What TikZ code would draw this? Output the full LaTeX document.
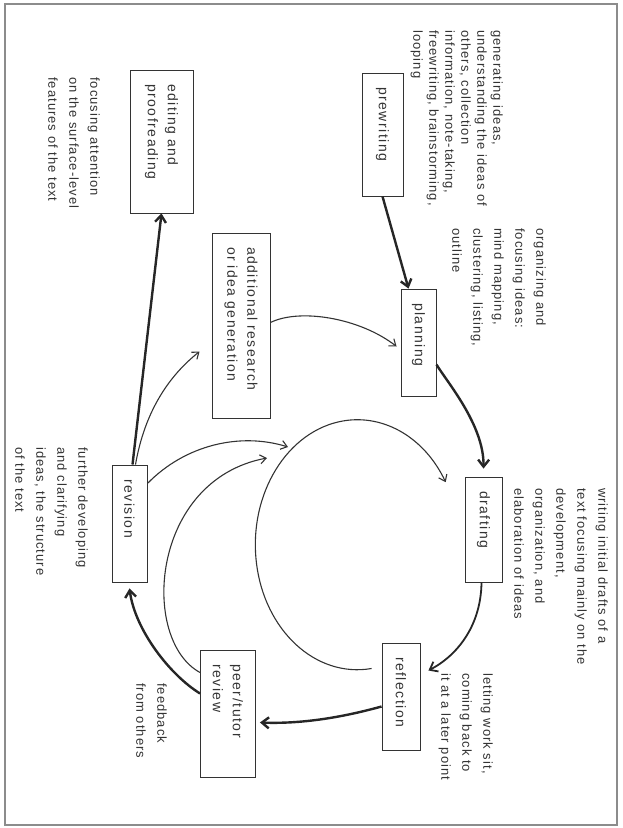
\documentclass[tikz,border=0pt]{standalone}
\usepackage{fontspec}
\usepackage{tikz}
\usetikzlibrary{arrows.meta}
\newfontfamily\boxfont{Liberation Sans}[LetterSpace=11]
\newfontfamily\notefont{Liberation Sans}[LetterSpace=8]
\tikzset{stage/.style = {draw=black!80, line width=0.9pt, rotate=-90, align=left, inner xsep=14pt, inner ysep=0pt, text=black!80, font=\boxfont\fontsize{14}{20}\selectfont}}
\tikzset{note/.style = {rotate=-90, anchor=north west, inner sep=0pt, align=left, text=black!80, font=\notefont\fontsize{13}{21}\selectfont}}
\tikzset{heavy/.style = {-{Straight Barb[length=7pt,width=11pt]}, line width=2.4pt, black!85}}
\tikzset{mid/.style = {heavy, line width=1.8pt}}
\tikzset{light/.style = {-{Straight Barb[length=6pt,width=9pt]}, line width=1.1pt, black!80}}

\begin{document}
\begin{tikzpicture}[x=1pt, y=-1pt]
\useasboundingbox (0,0) rectangle (622,828);
\draw [black!45, line width=1.6pt] (5,4) rectangle (617,825);

% stages
\node [stage, text width=95pt, minimum height=41pt] (P) at (382.5,134.5) {prewriting};
\node [stage, text width=79pt, minimum height=35pt] (Pl) at (418.5,342.5) {planning};
\node [stage, text width=77pt, minimum height=37pt] (D) at (483.5,529.5) {drafting};
\node [stage, text width=79pt, minimum height=38pt] (R) at (401,696.5) {reflection};
\node [stage, text width=99pt, minimum height=55pt] (PR) at (228,713.5) {peer/tutor\\review};
\node [stage, text width=89pt, minimum height=35pt] (Rv) at (129.5,523.5) {revision};
\node [stage, text width=115pt, minimum height=63pt] (E) at (161.5,141.5) {editing and\\proofreading};
\node [stage, text width=157pt, minimum height=58pt] (AR) at (241,325.5) {additional research\\or idea generation};

% notes
\node [note, font=\notefont\fontsize{13}{16}\selectfont] (nP) at (503,30) {generating ideas,\\understanding the ideas of\\others, collection\\information, note-taking,\\freewriting, brainstorming,\\looping};
\node [note] (nPl) at (546,228) {organizing and\\focusing ideas:\\mind mapping,\\clustering, listing,\\outline};
\node [note] (nD) at (608,488) {writing initial drafts of a\\text focusing mainly on the\\development,\\organization, and\\elaboration of ideas};
\node [note] (nR) at (493,673) {letting work sit,\\coming back to\\it at a later point};
\node [note] (nPR) at (167,683) {feedback\\from others};
\node [note] (nRv) at (88,447) {further developing\\and clarifying\\ideas, the structure\\of the text};
\node [note] (nE) at (100,77) {focusing attention\\on the surface-level\\features of the text};

\coordinate (cTop) at (288,447);
\coordinate (cIn) at (267,458);

\draw [heavy] (P.east) -- ([xshift=-10pt]Pl.west);
\draw [heavy] ([yshift=-22pt]Pl.north) .. controls (447,382) and (484,425) .. ([yshift=8pt]D.west);
\draw [mid] ([xshift=-2pt]D.east) .. controls (481,625) and (458,655) .. ([xshift=8pt,yshift=26pt]R.north);
\draw [heavy] ([yshift=-10pt]R.south) .. controls (340,718) and (300,724) .. ([xshift=4pt,yshift=-9pt]PR.north);
\draw [heavy] ([yshift=20pt]PR.south) .. controls (170,675) and (135,630) .. ([yshift=-6pt]Rv.east);
\draw [heavy] ([xshift=3pt]Rv.west) -- (E.east);
\draw [light] ([xshift=6pt]Rv.west) .. controls (145,410) and (170,375) .. ([xshift=-12pt,yshift=-26pt]AR.south);
\draw [light] ([yshift=3pt]AR.north) .. controls (300,308) and (360,318) .. ([xshift=-4pt,yshift=-4pt]Pl.south);
\draw [light] ([yshift=40pt]Rv.north) .. controls (185,445) and (240,432) .. (cTop);
\draw [light] ([yshift=41pt]PR.south) .. controls (140,640) and (150,480) .. (cIn);
\draw [light] ([xshift=-10pt,yshift=28pt]R.south) arc [start angle=82, end angle=330, x radius=102, y radius=125];
\end{tikzpicture}
\end{document}
